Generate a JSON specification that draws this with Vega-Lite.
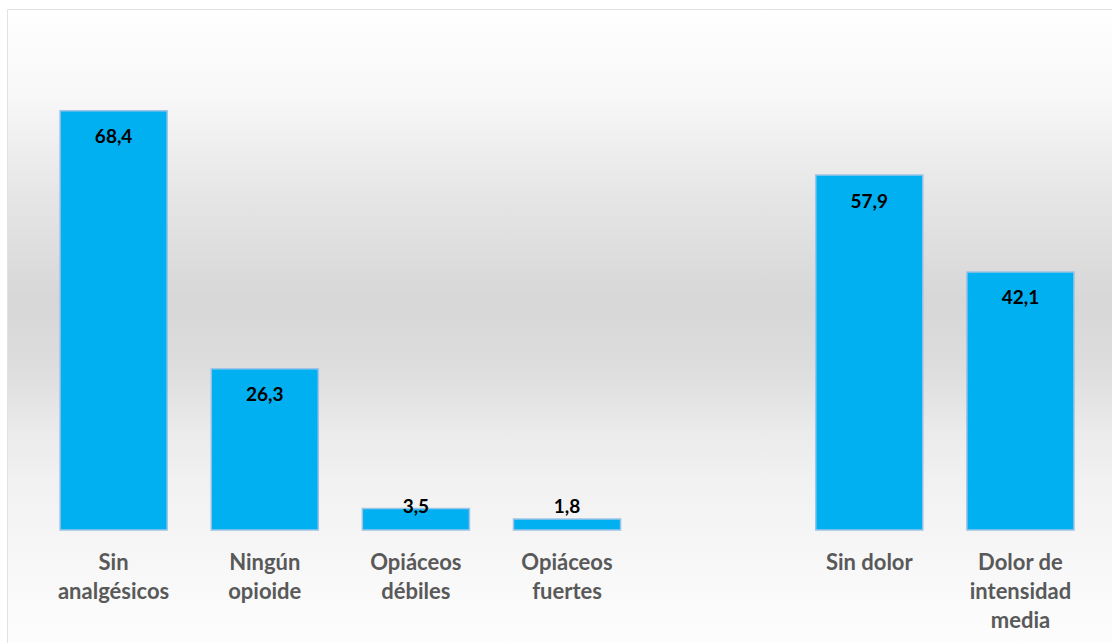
{
  "$schema": "https://vega.github.io/schema/vega-lite/v6.json",
  "width": 1104,
  "height": 633,
  "autosize": {"type": "none"},
  "padding": {"left": 8, "top": 10, "right": 0, "bottom": 0},
  "background": "#ffffff",
  "config": {
    "view": {"stroke": "#d9d9d9", "strokeWidth": 1.5},
    "font": "Lato"
  },
  "data": {
    "values": [
      {"categoria": "Sin analgésicos", "valor": 68.4, "etiqueta": "68,4"},
      {"categoria": "Ningún opioide", "valor": 26.3, "etiqueta": "26,3"},
      {"categoria": "Opiáceos débiles", "valor": 3.5, "etiqueta": "3,5"},
      {"categoria": "Opiáceos fuertes", "valor": 1.8, "etiqueta": "1,8"},
      {"categoria": "Sin dolor", "valor": 57.9, "etiqueta": "57,9"},
      {"categoria": "Dolor de intensidad media", "valor": 42.1, "etiqueta": "42,1"}
    ]
  },
  "encoding": {
    "x": {
      "field": "categoria",
      "type": "nominal",
      "sort": null,
      "scale": {
        "domain": ["Sin analgésicos", "Ningún opioide", "Opiáceos débiles", "Opiáceos fuertes", " ", "Sin dolor", "Dolor de intensidad media"],
        "paddingInner": 0.2914,
        "paddingOuter": 0.298,
        "align": 0.578
      },
      "axis": {
        "title": null,
        "domain": false,
        "ticks": false,
        "tickSize": 0,
        "offset": -113,
        "zindex": 2,
        "labelAngle": 0,
        "labelPadding": 22,
        "labelFont": "Lato",
        "labelFontSize": 22,
        "labelFontWeight": "bold",
        "labelColor": "#595959",
        "labelLineHeight": 29,
        "labelBaseline": "top",
        "labelLimit": 300,
        "labelExpr": "datum.value == 'Dolor de intensidad media' ? ['Dolor de', 'intensidad', 'media'] : datum.value == 'Sin dolor' ? 'Sin dolor' : split(datum.value, ' ')"
      }
    }
  },
  "layer": [
    {
      "data": {"values": [{}]},
      "mark": {
        "type": "rect",
        "color": {
          "gradient": "linear",
          "x1": 0, "y1": 0, "x2": 0, "y2": 1,
          "stops": [
            {"offset": 0, "color": "#ffffff"},
            {"offset": 0.142, "color": "#f7f7f7"},
            {"offset": 0.30, "color": "#e5e5e5"},
            {"offset": 0.458, "color": "#d7d7d7"},
            {"offset": 0.564, "color": "#dddddd"},
            {"offset": 0.668, "color": "#ebebeb"},
            {"offset": 0.742, "color": "#f1f1f1"},
            {"offset": 0.82, "color": "#f5f5f5"},
            {"offset": 1, "color": "#fdfdfd"}
          ]
        }
      },
      "encoding": {"x": null}
    },
    {
      "mark": {"type": "bar", "color": "#00B0F0", "stroke": "#9DC3E6", "strokeWidth": 1.5},
      "encoding": {
        "y": {
          "field": "valor",
          "type": "quantitative",
          "scale": {"domain": [-18.43, 84.83], "nice": false, "zero": false},
          "axis": null
        },
        "y2": {"datum": 0}
      }
    },
    {
      "transform": [{"filter": "datum.valor >= 10"}],
      "mark": {"type": "text", "baseline": "middle", "align": "center", "dy": 26.5, "font": "Lato", "fontSize": 19, "fontWeight": "bold", "color": "#000000"},
      "encoding": {
        "y": {"field": "valor", "type": "quantitative"},
        "text": {"field": "etiqueta"}
      }
    },
    {
      "transform": [{"filter": "datum.valor < 10"}],
      "mark": {"type": "text", "baseline": "middle", "align": "center", "dy": -23, "font": "Lato", "fontSize": 19, "fontWeight": "bold", "color": "#000000"},
      "encoding": {
        "y": {"datum": 0, "type": "quantitative"},
        "text": {"field": "etiqueta"}
      }
    }
  ]
}
